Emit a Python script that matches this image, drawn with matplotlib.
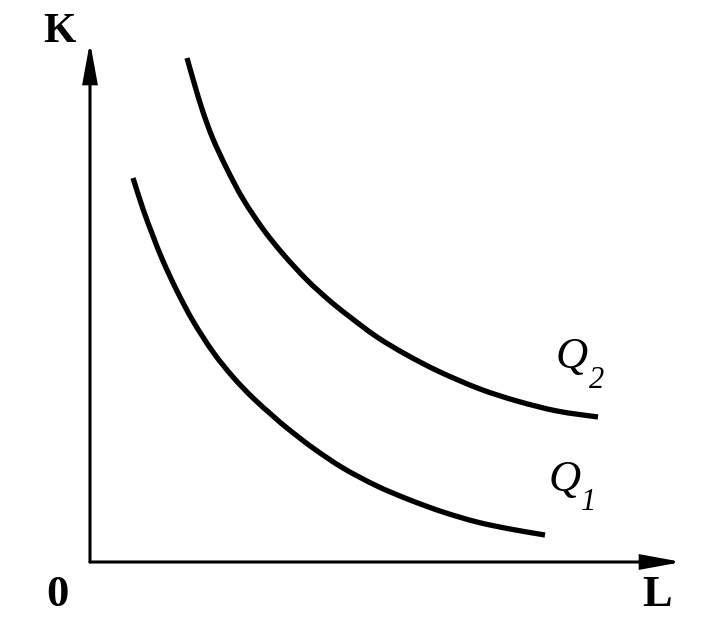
import matplotlib
matplotlib.use("Agg")
import matplotlib.pyplot as plt
from matplotlib.patches import FancyArrowPatch, PathPatch
from matplotlib.path import Path

# Isoquant Q1 (L, K)
q1_L = [43, 53, 63, 73, 87, 103, 123, 143, 163, 183, 197, 223, 253, 287, 320, 353, 387, 420, 455]
q1_K = [384, 353, 326, 301, 271, 241, 210, 185, 164, 146, 134, 114, 94, 76, 62, 50, 40, 33, 27]

# Isoquant Q2 (L, K)
q2_L = [97, 105, 113, 123, 137, 153, 173, 193, 217, 240, 260, 287, 317, 350, 390, 427, 467, 508]
q2_K = [504, 476, 450, 423, 393, 363, 333, 308, 282, 261, 245, 225, 207, 190, 173, 161, 151, 145]

axis_L_max = 592
axis_K_max = 520

fig = plt.figure(figsize=(7.03, 6.20), dpi=100)
ax = fig.add_axes([0, 0, 1, 1])
ax.set_xlim(-90, 613)
ax.set_ylim(-58, 562)
ax.axis("off")

serif = ["Liberation Serif", "DejaVu Serif"]


def smooth_path(xs, ys):
    """Catmull-Rom style smooth line passing through every read point."""
    pts = list(zip(xs, ys))
    n = len(pts)
    verts = [pts[0]]
    codes = [Path.MOVETO]
    for i in range(n - 1):
        p0 = pts[i - 1] if i > 0 else pts[i]
        p1 = pts[i]
        p2 = pts[i + 1]
        p3 = pts[i + 2] if i + 2 < n else pts[i + 1]
        c1 = (p1[0] + (p2[0] - p0[0]) / 6, p1[1] + (p2[1] - p0[1]) / 6)
        c2 = (p2[0] - (p3[0] - p1[0]) / 6, p2[1] - (p3[1] - p1[1]) / 6)
        verts += [c1, c2, p2]
        codes += [Path.CURVE4] * 3
    return Path(verts, codes)


# axes with arrows
for (x0, y0, x1, y1) in [(0, 0, 0, axis_K_max), (0, 0, axis_L_max, 0)]:
    arr = FancyArrowPatch((x0, y0), (x1, y1),
                          arrowstyle="-|>,head_length=1.2,head_width=0.22",
                          mutation_scale=20, lw=2.2, color="black",
                          shrinkA=0, shrinkB=0, joinstyle="miter")
    ax.add_patch(arr)

for xs, ys in [(q1_L, q1_K), (q2_L, q2_K)]:
    ax.add_patch(PathPatch(smooth_path(xs, ys), facecolor="none", edgecolor="black",
                           lw=3.8, capstyle="butt", joinstyle="round"))

ax.text(-31, 530, "K", fontsize=30, fontweight="bold", family=serif, ha="center", va="center")
ax.text(-33, -33, "0", fontsize=32, fontweight="bold", family=serif, ha="center", va="center")
ax.text(567, -33, "L", fontsize=32, fontweight="bold", family=serif, ha="center", va="center")

ax.text(482, 205, "Q", fontsize=32, style="italic", family=serif, ha="center", va="center")
ax.text(507, 181, "2", fontsize=22, style="italic", family=serif, ha="center", va="center")
ax.text(475, 82, "Q", fontsize=32, style="italic", family=serif, ha="center", va="center")
ax.text(499, 60, "1", fontsize=22, style="italic", family=serif, ha="center", va="center")

fig.savefig("out.png", dpi=100)
